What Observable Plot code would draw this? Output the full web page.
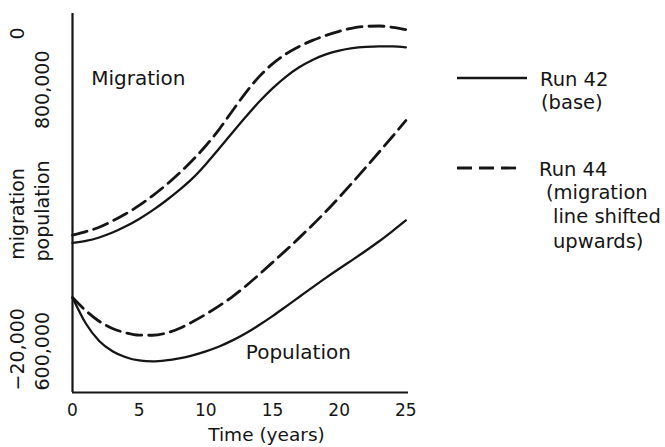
<!DOCTYPE html>
<html>
<head>
<meta charset="utf-8">
<script src="https://cdn.jsdelivr.net/npm/d3@7"></script>
<script src="https://cdn.jsdelivr.net/npm/@observablehq/plot@0.6"></script>
<style>
  html, body { margin: 0; padding: 0; background: #fff; }
  #chart { position: relative; width: 665px; height: 447px; }
  #chart svg { display: block; }
</style>
</head>
<body>
<div id="chart"></div>
<script>
// ---- Data ----
const years = [0,1,2,3,4,5,6,7,8,9,10,11,12,13,14,15,16,17,18,19,20,21,22,23,24,25];
// migration (people / year), left scale −20,000 … 0
const migrationRun42 = [-12100,-12000,-11820,-11560,-11230,-10840,-10390,-9880,-9320,-8700,-7950,-7120,-6280,-5450,-4660,-3950,-3340,-2840,-2450,-2160,-1960,-1830,-1760,-1730,-1740,-1790];
const migrationRun44 = [-11700,-11510,-11280,-10950,-10570,-10130,-9620,-9060,-8430,-7740,-6980,-6110,-5130,-4170,-3330,-2660,-2140,-1740,-1420,-1160,-940,-770,-680,-660,-730,-850];
// population, right scale 600,000 … 800,000
const populationRun42 = [650100,636400,627200,621800,618600,616900,616400,616900,618000,619600,621700,624300,627500,631300,635600,640300,645300,650400,655500,660500,665300,670000,674800,679800,685200,690800];
const populationRun44 = [650100,643200,637600,633800,631500,630300,630200,631300,633800,637300,641300,645700,650600,656200,662300,668600,675000,681600,688400,695500,703000,710800,718800,726900,735100,743500];

const xTicks = [0, 5, 10, 15, 20, 25];
const migrationAxisLabels = ["\u221220,000", "migration", "0"];
const populationAxisLabels = ["600,000", "population", "800,000"];
const curveLabels = ["Migration", "Population"];
const curveLabelYears = [1.4, 13.0];
const curveLabelValues = [765700, 621100];
const legendTitles = ["Run 42", "Run 44"];
const legendNotes = [["(base)"], ["(migration", "line shifted", "upwards)"]];

// migration −20,000…0 shares the vertical axis with population 600,000…800,000
const migToPop = m => 800000 + m * 10;

const series = (vals, run, kind) => years.map((t, i) => ({t, v: kind === "migration" ? migToPop(vals[i]) : vals[i], run, kind}));
const mig42 = series(migrationRun42, "Run 42", "migration");
const mig44 = series(migrationRun44, "Run 44", "migration");
const pop42 = series(populationRun42, "Run 42", "population");
const pop44 = series(populationRun44, "Run 44", "population");

const INK = "#151515";
const FONT = "DejaVu Sans";
const DASH = "15,7";
const CURVE = "monotone-x";

const axisLabelRows = [0, 1, 2].map(i => ({
  mig: migrationAxisLabels[i], pop: populationAxisLabels[i],
  v: [600000, 700000, 800000][i],
  anchor: ["start", "middle", "end"][i]
}));
const rowsAt = a => axisLabelRows.filter(d => d.anchor === a);

const plot = Plot.plot({
  width: 665,
  height: 447,
  marginLeft: 72,
  marginRight: 257,
  marginTop: 13,
  marginBottom: 55,
  x: {domain: [0, 25.2], axis: null},
  y: {domain: [600000, 800000], axis: null},
  style: {fontFamily: FONT, color: INK, background: "#fff", overflow: "visible"},
  marks: [
    Plot.line(mig42, {x: "t", y: "v", curve: CURVE, stroke: INK, strokeWidth: 2.3}),
    Plot.line(mig44, {x: "t", y: "v", curve: CURVE, stroke: INK, strokeWidth: 2.8, strokeDasharray: DASH}),
    Plot.line(pop42, {x: "t", y: "v", curve: CURVE, stroke: INK, strokeWidth: 2.3}),
    Plot.line(pop44, {x: "t", y: "v", curve: CURVE, stroke: INK, strokeWidth: 2.8, strokeDasharray: DASH}),
    Plot.ruleX([0], {stroke: INK, strokeWidth: 2.2}),
    Plot.ruleY([600000], {stroke: INK, strokeWidth: 2.2}),
    // x tick labels
    Plot.text(xTicks, {x: d => d, y: () => 600000, text: d => String(d), dy: 18, fontSize: 17, fill: INK}),
    Plot.text(["Time (years)"], {frameAnchor: "bottom", text: d => d, dx: 26, dy: 48, fontSize: 18.5, fill: INK}),
    // rotated y labels (two stacked scales)
    Plot.text(rowsAt("start"), {y: "v", text: "mig", frameAnchor: "left", dx: -55, dy: -2, rotate: -90, textAnchor: "start", fontSize: 19, fill: INK}),
    Plot.text(rowsAt("start"), {y: "v", text: "pop", frameAnchor: "left", dx: -30, dy: -2, rotate: -90, textAnchor: "start", fontSize: 19, fill: INK}),
    Plot.text(rowsAt("middle"), {y: "v", text: "mig", frameAnchor: "left", dx: -55, dy: 11, rotate: -90, textAnchor: "middle", fontSize: 19, fill: INK}),
    Plot.text(rowsAt("middle"), {y: "v", text: "pop", frameAnchor: "left", dx: -30, dy: 8, rotate: -90, textAnchor: "middle", fontSize: 19, fill: INK}),
    Plot.text(rowsAt("end"), {y: "v", text: "mig", frameAnchor: "left", dx: -55, dy: 14, rotate: -90, textAnchor: "end", fontSize: 19, fill: INK}),
    Plot.text(rowsAt("end"), {y: "v", text: "pop", frameAnchor: "left", dx: -30, dy: 37, rotate: -90, textAnchor: "end", fontSize: 19, fill: INK}),
    // curve annotations
    Plot.text(curveLabels, {x: (d, i) => curveLabelYears[i], y: (d, i) => curveLabelValues[i], text: d => d, textAnchor: "start", fontSize: 20, fill: INK})
  ]
});

document.getElementById("chart").appendChild(plot);

// ---- Legend (right side) ----
const svg = d3.select(plot);
const lg = svg.append("g")
  .attr("font-family", FONT).attr("font-size", 19.5).attr("fill", INK)
  .attr("text-anchor", "start");
const legendRows = [
  {title: legendTitles[0], notes: legendNotes[0], dash: null, y: 78, lineEnd: 527, textX: 540, noteX: [541]},
  {title: legendTitles[1], notes: legendNotes[1], dash: DASH, y: 168, lineEnd: 517, textX: 539, noteX: [546, 553, 553]}
];
legendRows.forEach(r => {
  lg.append("line").attr("x1", 457).attr("x2", r.lineEnd).attr("y1", r.y).attr("y2", r.y)
    .attr("stroke", INK).attr("stroke-width", r.dash ? 2.8 : 2.4)
    .attr("stroke-dasharray", r.dash);
  lg.append("text").attr("x", r.textX).attr("y", r.y + 1).attr("dy", "0.35em")
    .attr("text-anchor", "start").text(r.title);
  r.notes.forEach((n, j) => {
    lg.append("text").attr("x", r.noteX[j]).attr("y", r.y + 24 + j * 24.5).attr("dy", "0.35em")
      .attr("text-anchor", "start").text(n);
  });
});
</script>
</body>
</html>
